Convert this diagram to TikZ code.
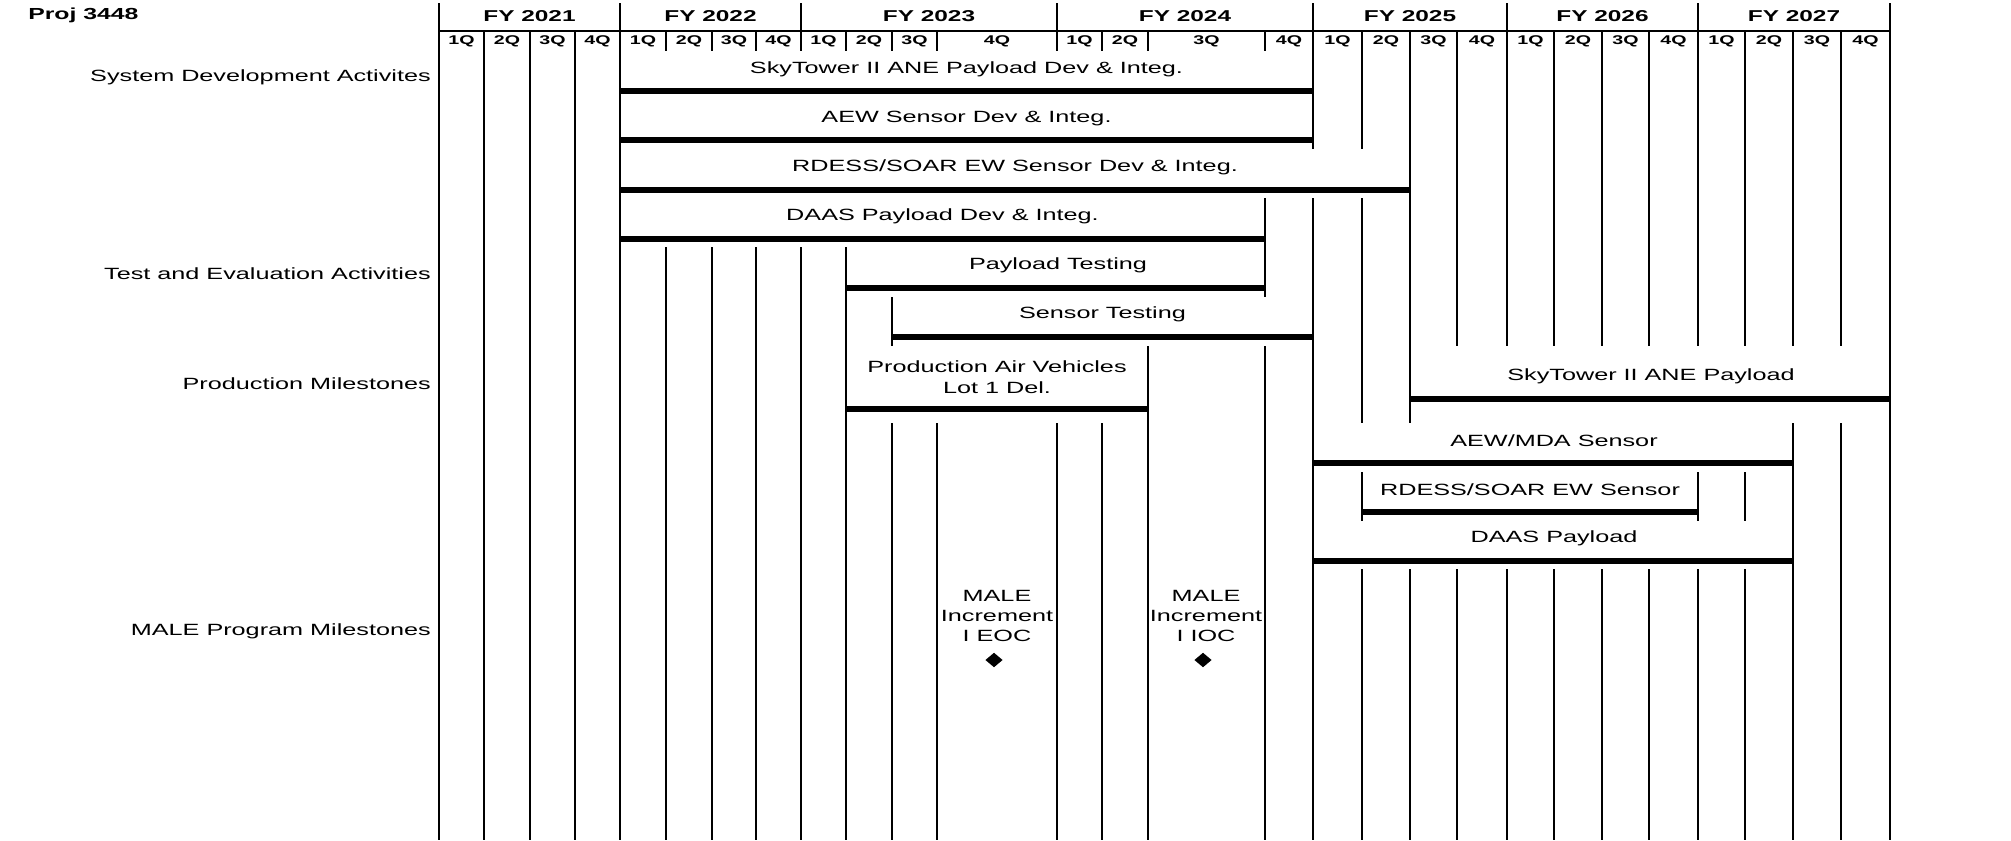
\documentclass[tikz,border=0pt]{standalone}
\usepackage{fontspec}
\setmainfont{Liberation Sans}[FakeStretch=1.55]
\usetikzlibrary{shapes.geometric}

\begin{document}
\begin{tikzpicture}[x=0.75pt,y=0.75pt,yscale=-1,xscale=1,
    qline/.style={line width=1.6pt},
    barline/.style={line width=3.8pt},
    txt/.style={inner sep=0pt,align=center,font=\fontsize{12.2}{15.5}\selectfont},
    side/.style={inner sep=0pt,anchor=east,font=\fontsize{12.2}{15}\selectfont},
    fyhead/.style={inner sep=0pt,font=\bfseries\fontsize{11.8}{14}\selectfont},
    qhead/.style={inner sep=0pt,font=\bfseries\fontsize{9.5}{11}\selectfont},
    mstone/.style={diamond,fill=black,inner sep=0pt,minimum width=13pt,minimum height=11pt}]
        \useasboundingbox (0,0) rectangle (2011,840);
        %Straight Lines (header)
        \draw [qline] (439,31) -- (1890,31) ;
        %Straight Lines (fiscal years)
        \draw [qline] (439,3) -- (439,840) (620,3) -- (620,840) (1890,3) -- (1890,840) ;
        \draw [qline] (801,3) -- (801,51) (801,247) -- (801,840) ;
        \draw [qline] (1057,3) -- (1057,51) (1057,423) -- (1057,840) ;
        \draw [qline] (1313,3) -- (1313,149) (1313,198) -- (1313,840) ;
        \draw [qline] (1507,3) -- (1507,346) (1507,569) -- (1507,840) ;
        \draw [qline] (1698,3) -- (1698,346) (1698,472) -- (1698,521) (1698,569) -- (1698,840) ;
        %Straight Lines (quarters)
        \draw [qline] (484,31) -- (484,840) (530,31) -- (530,840) (575,31) -- (575,840) ;
        \draw [qline] (666,31) -- (666,51) (666,247) -- (666,840) ;
        \draw [qline] (712,31) -- (712,51) (712,247) -- (712,840) ;
        \draw [qline] (756,31) -- (756,51) (756,247) -- (756,840) ;
        \draw [qline] (846,31) -- (846,51) (846,247) -- (846,840) ;
        \draw [qline] (892,31) -- (892,51) (892,297) -- (892,346) (892,423) -- (892,840) ;
        \draw [qline] (937,31) -- (937,51) (937,423) -- (937,840) ;
        \draw [qline] (1102,31) -- (1102,51) (1102,423) -- (1102,840) ;
        \draw [qline] (1148,31) -- (1148,51) (1148,346) -- (1148,840) ;
        \draw [qline] (1265,31) -- (1265,51) (1265,198) -- (1265,297) (1265,346) -- (1265,840) ;
        \draw [qline] (1362,31) -- (1362,149) (1362,198) -- (1362,423) (1362,472) -- (1362,521) (1362,569) -- (1362,840) ;
        \draw [qline] (1410,31) -- (1410,423) (1410,569) -- (1410,840) ;
        \draw [qline] (1457,31) -- (1457,346) (1457,569) -- (1457,840) ;
        \draw [qline] (1554,31) -- (1554,346) (1554,569) -- (1554,840) ;
        \draw [qline] (1602,31) -- (1602,346) (1602,569) -- (1602,840) ;
        \draw [qline] (1649,31) -- (1649,346) (1649,569) -- (1649,840) ;
        \draw [qline] (1745,31) -- (1745,346) (1745,472) -- (1745,521) (1745,569) -- (1745,840) ;
        \draw [qline] (1793,31) -- (1793,346) (1793,423) -- (1793,840) ;
        \draw [qline] (1841,31) -- (1841,346) (1841,423) -- (1841,840) ;
        % Text Node
        \draw (28,15) node [anchor=west,inner sep=0pt,font=\bfseries\fontsize{12}{14}\selectfont] (proj) {Proj 3448};
        \draw (529.5,16) node [fyhead] (fy21) {FY 2021};
        \draw (710.5,16) node [fyhead] (fy22) {FY 2022};
        \draw (929,16) node [fyhead] (fy23) {FY 2023};
        \draw (1185,16) node [fyhead] (fy24) {FY 2024};
        \draw (1410,16) node [fyhead] (fy25) {FY 2025};
        \draw (1602.5,16) node [fyhead] (fy26) {FY 2026};
        \draw (1794,16) node [fyhead] (fy27) {FY 2027};
        % Text Node
        \draw (461.5,41) node [qhead] (q21a) {1Q};
        \draw (507,41) node [qhead] (q21b) {2Q};
        \draw (552.5,41) node [qhead] (q21c) {3Q};
        \draw (597.5,41) node [qhead] (q21d) {4Q};
        \draw (643,41) node [qhead] (q22a) {1Q};
        \draw (689,41) node [qhead] (q22b) {2Q};
        \draw (734,41) node [qhead] (q22c) {3Q};
        \draw (778.5,41) node [qhead] (q22d) {4Q};
        \draw (823.5,41) node [qhead] (q23a) {1Q};
        \draw (869,41) node [qhead] (q23b) {2Q};
        \draw (914.5,41) node [qhead] (q23c) {3Q};
        \draw (997,41) node [qhead] (q23d) {4Q};
        \draw (1079.5,41) node [qhead] (q24a) {1Q};
        \draw (1125,41) node [qhead] (q24b) {2Q};
        \draw (1206.5,41) node [qhead] (q24c) {3Q};
        \draw (1289,41) node [qhead] (q24d) {4Q};
        \draw (1337.5,41) node [qhead] (q25a) {1Q};
        \draw (1386,41) node [qhead] (q25b) {2Q};
        \draw (1433.5,41) node [qhead] (q25c) {3Q};
        \draw (1482,41) node [qhead] (q25d) {4Q};
        \draw (1530.5,41) node [qhead] (q26a) {1Q};
        \draw (1578,41) node [qhead] (q26b) {2Q};
        \draw (1625.5,41) node [qhead] (q26c) {3Q};
        \draw (1673.5,41) node [qhead] (q26d) {4Q};
        \draw (1721.5,41) node [qhead] (q27a) {1Q};
        \draw (1769,41) node [qhead] (q27b) {2Q};
        \draw (1817,41) node [qhead] (q27c) {3Q};
        \draw (1865.5,41) node [qhead] (q27d) {4Q};
        % Text Node
        \draw (431,77.5) node [side] (sysdev) {System Development Activites};
        \draw (431,273.5) node [side] (testeval) {Test and Evaluation Activities};
        \draw (431,383.5) node [side] (prodms) {Production Milestones};
        \draw (431,631.5) node [side] (malems) {MALE Program Milestones};
        %Straight Lines (bars)
        \draw [barline] (620,91) -- (1313,91) ;
        \draw [barline] (620,140) -- (1313,140) ;
        \draw [barline] (620,190) -- (1410,190) ;
        \draw [barline] (620,239) -- (1265,239) ;
        \draw [barline] (846,288) -- (1265,288) ;
        \draw [barline] (892,337) -- (1313,337) ;
        \draw [barline] (846,409) -- (1148,409) ;
        \draw [barline] (1410,399) -- (1890,399) ;
        \draw [barline] (1313,463) -- (1793,463) ;
        \draw [barline] (1362,512) -- (1698,512) ;
        \draw [barline] (1313,561) -- (1793,561) ;
        % Text Node
        \draw (966.5,69.5) node [txt] (skydev) {SkyTower II ANE Payload Dev \& Integ.};
        \draw (966.5,118.5) node [txt] (aewdev) {AEW Sensor Dev \& Integ.};
        \draw (1015,167.5) node [txt] (rdessdev) {RDESS/SOAR EW Sensor Dev \& Integ.};
        \draw (942.5,216.5) node [txt] (daasdev) {DAAS Payload Dev \& Integ.};
        \draw (1058,265.5) node [txt] (paytest) {Payload Testing};
        \draw (1102.5,314.5) node [txt] (sentest) {Sensor Testing};
        \draw (997,377) node [txt] (prodav) {Production Air Vehicles\\Lot 1 Del.};
        \draw (1651,376.5) node [txt] (skyprod) {SkyTower II ANE Payload};
        \draw (1554,440.5) node [txt] (aewprod) {AEW/MDA Sensor};
        \draw (1530,489.5) node [txt] (rdessprod) {RDESS/SOAR EW Sensor};
        \draw (1554,538.5) node [txt] (daasprod) {DAAS Payload};
        % Text Node
        \draw (997,616) node [txt,font=\fontsize{12.2}{15}\selectfont] (eoc) {MALE\\Increment\\I EOC};
        \draw (1206,616) node [txt,font=\fontsize{12.2}{15}\selectfont] (ioc) {MALE\\Increment\\I IOC};
        \draw (994,660) node [mstone] (eocmark) {};
        \draw (1203,660) node [mstone] (iocmark) {};
\end{tikzpicture}
\end{document}
